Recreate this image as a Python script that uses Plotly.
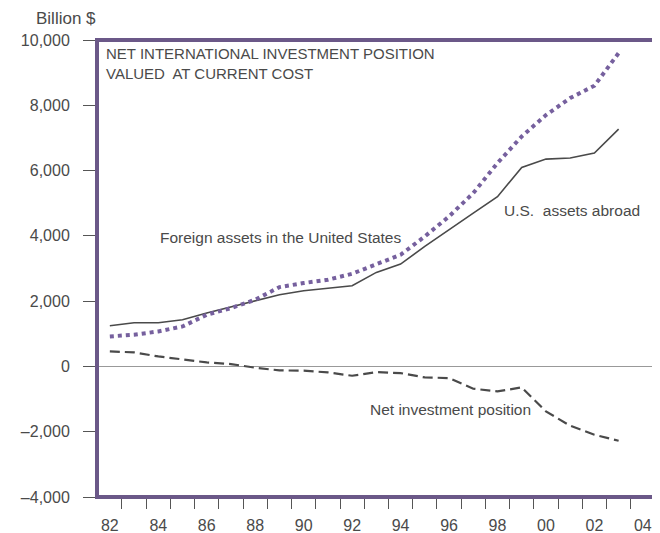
import plotly.graph_objects as go

years = list(range(1982, 2004))
us_assets_abroad = [1246, 1338, 1338, 1430, 1634, 1818, 1991, 2196, 2319, 2400, 2472, 2880,
                    3136, 3676, 4200, 4698, 5200, 6095, 6352, 6383, 6536, 7271]
foreign_assets_us = [919, 971, 1072, 1225, 1583, 1787, 2043, 2430, 2554, 2656, 2839, 3115,
                     3421, 3982, 4595, 5310, 6230, 7045, 7700, 8221, 8600, 9600]
net_position = [460, 430, 306, 225, 123, 72, -40, -122, -130, -184, -285, -173,
                -204, -337, -357, -683, -766, -643, -1378, -1816, -2092, -2276]

ytick_vals = [-4000, -2000, 0, 2000, 4000, 6000, 8000, 10000]
ytick_text = ["\u20134,000", "\u20132,000", "0", "2,000", "4,000", "6,000", "8,000", "10,000"]
xlabel_vals = list(range(1982, 2005, 2))
xlabel_text = ["82", "84", "86", "88", "90", "92", "94", "96", "98", "00", "02", "04"]
xminor_vals = [y + 0.5 for y in range(1982, 2004)]

FONT = "Liberation Sans, Arial, sans-serif"
TXT = "#4a4a4a"
PURPLE = "#6b5888"
DOT = "#76609e"

fig = go.Figure()
fig.add_trace(go.Scatter(x=years, y=us_assets_abroad, mode="lines",
                         line=dict(color="#4a4a4a", width=1.6), name="U.S. assets abroad"))
fig.add_trace(go.Scatter(x=years, y=foreign_assets_us, mode="lines",
                         line=dict(color=DOT, width=4, dash="dot"),
                         name="Foreign assets in the United States"))
fig.add_trace(go.Scatter(x=years, y=net_position, mode="lines",
                         line=dict(color="#4a4a4a", width=2.2, dash="10px,5px"),
                         name="Net investment position"))

# page body has an 8px margin, so the figure is 8px smaller and margins shifted
fig.update_layout(
    width=652, height=525,
    margin=dict(l=89, r=6, t=32, b=36),
    paper_bgcolor="white", plot_bgcolor="white",
    showlegend=False,
    font=dict(family=FONT, color=TXT, size=15),
    xaxis=dict(range=[1981.47, 2004.46], tickvals=xlabel_vals, ticktext=xlabel_text,
               ticks="", showgrid=False, zeroline=False, showline=False,
               ticklabelstandoff=17, automargin=False,
               tickfont=dict(size=16, color=TXT),
               minor=dict(tickvals=xminor_vals, ticks="outside", ticklen=11,
                          tickcolor="#555", tickwidth=1, showgrid=False)),
    yaxis=dict(range=[-4000, 10000], tickvals=ytick_vals, ticktext=ytick_text,
               ticks="outside", ticklen=13, tickcolor="#555", tickwidth=1,
               showgrid=False, zeroline=True, zerolinecolor="#999",
               zerolinewidth=1, showline=False, ticklabelstandoff=10, automargin=False,
               tickfont=dict(size=16, color=TXT)),
)

fig.add_shape(type="rect", xref="paper", yref="paper", x0=0, x1=1, y0=0, y1=1,
              line=dict(color=PURPLE, width=4), layer="above")

fig.add_annotation(xref="paper", yref="paper", x=-0.113, y=1.048, xanchor="left", yanchor="middle",
                   text="Billion $", showarrow=False, font=dict(size=17, color=TXT))
fig.add_annotation(xref="paper", yref="paper", x=0.012, y=0.993, xanchor="left", yanchor="top",
                   text="NET INTERNATIONAL INVESTMENT POSITION<br>VALUED  AT CURRENT COST",
                   showarrow=False, align="left", font=dict(size=15, color=TXT))
fig.add_annotation(x=1984.0, y=3942, xanchor="left", yanchor="middle",
                   text="Foreign assets in the United States", showarrow=False,
                   font=dict(size=15.5, color=TXT))
fig.add_annotation(x=1998.2, y=4769, xanchor="left", yanchor="middle",
                   text="U.S.  assets abroad", showarrow=False, font=dict(size=15.5, color=TXT))
fig.add_annotation(x=1992.66, y=-1326, xanchor="left", yanchor="middle",
                   text="Net investment position", showarrow=False, font=dict(size=15.5, color=TXT))

fig.write_html("out.html")
